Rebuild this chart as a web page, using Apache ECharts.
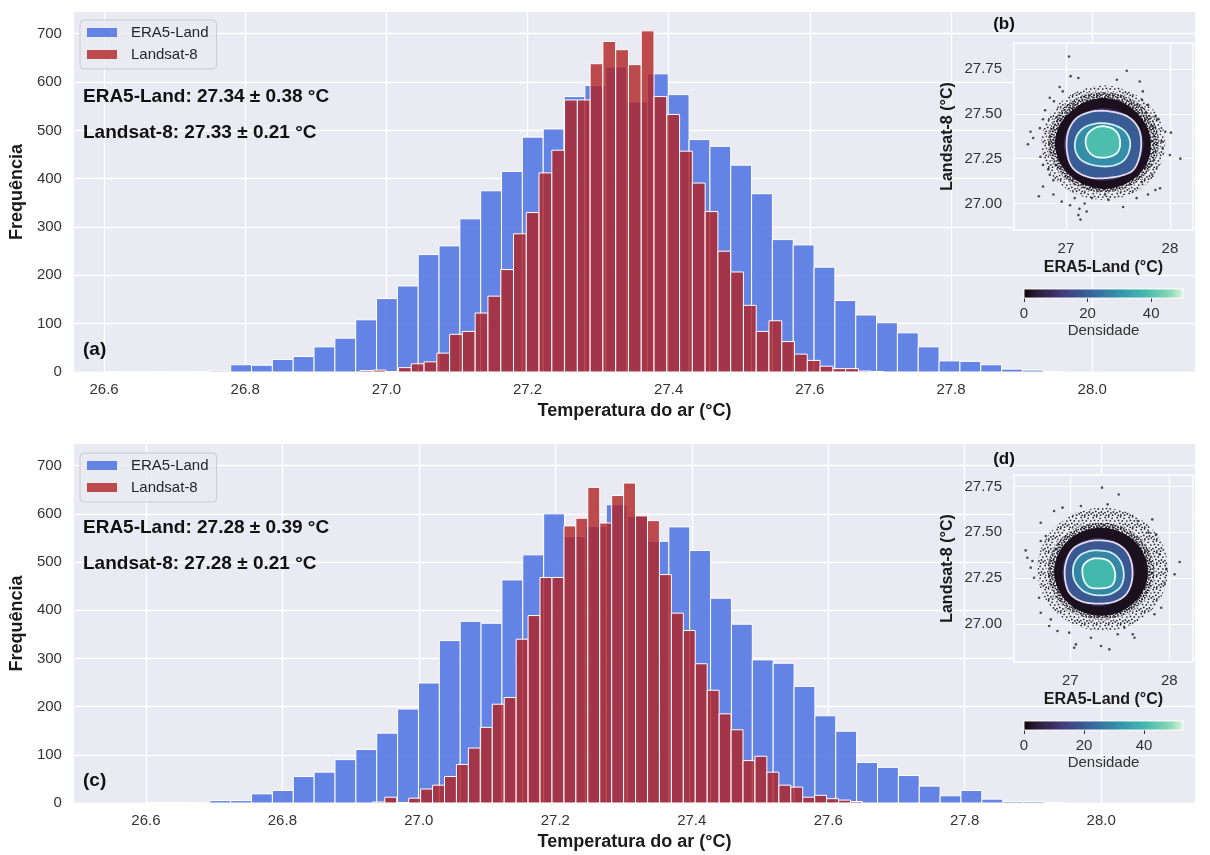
<!DOCTYPE html>
<html>
<head>
<meta charset="utf-8">
<script src="https://cdn.jsdelivr.net/npm/echarts@6/dist/echarts.min.js"></script>
<style>html,body{margin:0;background:#fff}#main{width:1210px;height:855px}</style>
</head>
<body>
<div id="main"></div>
<script>
var FONT = '"Liberation Sans", Arial, sans-serif';

// (a) histogramas - bordas das classes e contagens
var aEraStart = 26.6023, aEraWidth = 0.02952;
var aEra = [1,0,1,0,1,2,15,14,26,32,52,70,108,152,178,243,261,317,375,415,486,503,570,593,631,559,617,574,481,467,428,369,274,263,217,148,118,102,81,52,23,22,15,6,4,1];
var aLandStart = 26.9629, aLandWidth = 0.0181;
var aLand = [3,4,1,9,17,21,39,78,84,122,157,212,286,330,412,459,563,563,638,684,667,636,706,570,533,457,391,332,250,207,138,84,106,63,37,24,12,7,7,2,1];

// (c) histogramas
var cEraStart = 26.6019, cEraWidth = 0.03058;
var cEra = [1,1,0,5,5,19,26,55,64,90,111,145,195,249,337,377,373,463,515,600,553,574,619,595,543,573,524,425,371,297,290,242,181,149,84,74,57,35,15,26,8,3,3,1];
var cLandStart = 26.9326, cLandWidth = 0.0175;
var cLand = [2,12,1,10,29,37,55,80,114,157,205,219,340,389,468,468,575,591,655,581,638,664,596,586,474,394,358,289,234,185,152,88,97,64,37,33,12,16,9,6,3];

var xTicks = [26.6, 26.8, 27.0, 27.2, 27.4, 27.6, 27.8, 28.0];
var yTicks = [0, 100, 200, 300, 400, 500, 600, 700];
var insetXTicks = [27, 28];
var insetYTicks = [27.0, 27.25, 27.5, 27.75];
var cbarTicks = [0, 20, 40];

// (b) densidade: regioes e contornos (ERA5-Land x Landsat-8)
var bSpeckle = [[27.955,27.337],[27.875,27.495],[27.659,27.610],[27.360,27.659],[27.061,27.610],[26.845,27.495],[26.765,27.331],[26.845,27.175],[27.061,27.063],[27.360,27.020],[27.659,27.063],[27.875,27.175]];
var bOuter = [[27.901,27.342],[27.827,27.484],[27.630,27.588],[27.360,27.625],[27.090,27.588],[26.894,27.484],[26.820,27.342],[26.894,27.201],[27.090,27.096],[27.360,27.059],[27.630,27.096],[27.827,27.201]];
var bDark = [[27.817,27.331],[27.756,27.452],[27.585,27.551],[27.360,27.588],[27.135,27.551],[26.958,27.454],[26.894,27.331],[26.964,27.206],[27.135,27.117],[27.360,27.081],[27.585,27.113],[27.762,27.206]];
var bNavy = [[27.746,27.329],[27.695,27.432],[27.553,27.504],[27.363,27.532],[27.173,27.504],[27.032,27.432],[26.980,27.329],[27.032,27.227],[27.173,27.154],[27.363,27.126],[27.553,27.154],[27.695,27.227]];
var bLavender = [[27.36,27.517],[27.505,27.504],[27.617,27.476],[27.697,27.420],[27.724,27.346],[27.708,27.262],[27.650,27.188],[27.537,27.156],[27.376,27.141],[27.231,27.145],[27.103,27.178],[27.032,27.234],[27.006,27.327],[27.029,27.411],[27.103,27.476],[27.231,27.510]];
var bCyan = [[27.36,27.448],[27.473,27.435],[27.569,27.402],[27.617,27.346],[27.601,27.281],[27.537,27.231],[27.408,27.207],[27.247,27.216],[27.135,27.249],[27.087,27.309],[27.103,27.374],[27.167,27.420],[27.263,27.443]];
var bInner = [[27.328,27.430],[27.440,27.420],[27.505,27.383],[27.521,27.327],[27.489,27.281],[27.392,27.257],[27.280,27.262],[27.209,27.299],[27.190,27.355],[27.231,27.402]];
var bDensity = [2, 8, 19, 29, 39];
var bOutliers = [[27.03,27.82],[27.585,27.74],[27.045,27.71],[27.12,27.70],[27.71,27.68],[27.49,27.69],[26.94,27.65],[26.97,27.625],[27.74,27.625],[26.845,27.59],[26.885,27.57],[27.73,27.58],[27.79,27.55],[27.86,27.485],[26.80,27.52],[26.78,27.47],[26.75,27.42],[26.66,27.40],[26.685,27.365],[26.635,27.33],[27.83,27.43],[27.89,27.47],[27.955,27.40],[28.01,27.395],[27.92,27.345],[28.00,27.27],[28.10,27.25],[27.93,27.31],[26.755,27.26],[26.78,27.215],[26.83,27.19],[26.845,27.16],[26.88,27.13],[26.74,27.04],[26.78,27.095],[26.88,27.05],[26.96,27.01],[27.04,26.99],[27.085,27.03],[27.18,27.00],[27.25,27.03],[27.13,26.97],[27.12,26.935],[27.14,26.91],[27.20,26.955],[27.41,27.02],[27.55,26.98],[27.375,27.05],[27.68,27.03],[27.79,27.05],[27.86,27.075],[27.905,27.085],[27.73,27.12],[27.83,27.16]];

// (d) densidade
var dSpeckle = [[27.987,27.298],[27.899,27.467],[27.659,27.588],[27.328,27.634],[27.000,27.588],[26.756,27.467],[26.668,27.298],[26.756,27.129],[27.000,27.008],[27.328,26.962],[27.659,27.008],[27.899,27.129]];
var dOuter = [[27.858,27.288],[27.784,27.423],[27.584,27.521],[27.311,27.557],[27.037,27.521],[26.837,27.423],[26.763,27.288],[26.837,27.154],[27.037,27.056],[27.311,27.020],[27.584,27.056],[27.784,27.154]];
var dDark = [[27.784,27.285],[27.720,27.405],[27.547,27.492],[27.311,27.525],[27.074,27.492],[26.902,27.405],[26.837,27.285],[26.902,27.165],[27.074,27.078],[27.311,27.045],[27.547,27.078],[27.720,27.165]];
var dNavy = [[27.649,27.283],[27.601,27.376],[27.466,27.445],[27.284,27.470],[27.101,27.445],[26.966,27.376],[26.919,27.283],[26.966,27.189],[27.101,27.122],[27.284,27.096],[27.466,27.122],[27.601,27.189]];
var dLavender = [[27.277,27.456],[27.446,27.443],[27.564,27.398],[27.622,27.325],[27.622,27.234],[27.564,27.162],[27.446,27.122],[27.277,27.111],[27.108,27.125],[26.990,27.171],[26.946,27.252],[26.956,27.334],[27.023,27.407],[27.142,27.443]];
var dCyan = [[27.270,27.401],[27.412,27.389],[27.507,27.343],[27.541,27.270],[27.507,27.202],[27.395,27.162],[27.250,27.158],[27.125,27.183],[27.040,27.243],[27.033,27.316],[27.091,27.370],[27.175,27.394]];
var dInner = [[27.260,27.358],[27.378,27.347],[27.439,27.307],[27.453,27.252],[27.412,27.207],[27.294,27.194],[27.192,27.202],[27.135,27.244],[27.125,27.307],[27.175,27.343]];
var dDensity = [2, 8, 19, 29, 40];
var dOutliers = [[27.321,27.743],[27.490,27.706],[26.702,27.552],[26.837,27.616],[26.922,27.634],[27.828,27.570],[27.791,27.498],[26.550,27.401],[26.567,27.361],[26.618,27.343],[26.702,27.452],[26.753,27.479],[28.105,27.338],[28.054,27.271],[27.970,27.298],[27.953,27.225],[26.635,27.252],[26.601,27.307],[26.702,27.061],[26.787,26.989],[26.871,26.962],[26.990,26.953],[27.040,26.871],[27.057,26.889],[27.209,26.925],[27.311,26.880],[27.395,26.862],[27.480,26.944],[27.632,26.944],[27.649,26.925],[27.547,26.980],[27.851,27.053],[27.919,27.089],[26.804,27.025],[26.685,27.143],[27.902,27.380],[27.868,27.489],[27.682,27.561],[27.378,27.652],[27.108,27.643]];

// mapa de cores "mako"
var mako = ['#0b0405','#2e1e3b','#382a5a','#413d7b','#3c518c','#37659e','#367aa2','#348fa7','#3aa3aa','#40b7ad','#65c8b0','#8bdab2','#def5e5'];
var makoStops = mako.map(function (c, i) { return {offset: i / (mako.length - 1), color: c}; });

function bins(start, width, counts) {
  return counts.map(function (c, i) { return [start + i * width, start + (i + 1) * width, c]; });
}

function renderBar(params, api) {
  var p0 = api.coord([api.value(0), api.value(2)]);
  var p1 = api.coord([api.value(1), 0]);
  return {
    type: 'rect',
    shape: {x: p0[0], y: p0[1], width: p1[0] - p0[0], height: p1[1] - p0[1]},
    style: {fill: api.visual('color'), stroke: '#fff', lineWidth: 1}
  };
}

function histSeries(name, data, idx, color) {
  return {type: 'custom', name: name, xAxisIndex: idx, yAxisIndex: idx, data: data,
    renderItem: renderBar, encode: {x: [0, 1], y: 2}, itemStyle: {color: color}, silent: true};
}

// texturas de pontos para a nuvem do scatter
function dotPattern(size, dots) {
  var c = document.createElement('canvas');
  c.width = size; c.height = size;
  var g = c.getContext('2d');
  g.fillStyle = 'rgba(20,18,24,0.9)';
  dots.forEach(function (d) {
    g.beginPath(); g.arc(d[0], d[1], 0.9, 0, Math.PI * 2); g.fill();
  });
  return c;
}
var sparseFill = {image: dotPattern(12, [[1.2,1.5],[4.6,0.8],[8.1,2.3],[10.8,5.1],[2.5,4.4],[6.3,4.9],[9.4,8.0],[0.9,8.6],[3.8,7.4],
  [6.9,8.9],[4.9,11.0],[8.6,11.2],[11.3,9.9],[2.2,11.3]]), repeat: 'repeat'};
var denseFill = {image: dotPattern(8, [[1,1],[3.6,0.7],[6.2,1.6],[2.2,3.3],[4.9,3.6],[7.3,4.4],[0.8,5.6],[3.4,6.1],[5.9,6.9],[1.9,7.6]]), repeat: 'repeat'};

// curva fechada suave (Catmull-Rom) pelos pontos do contorno, em pixels
function closedCurve(pts) {
  var out = [], L = pts.length, n = 10;
  for (var i = 0; i < L; i++) {
    var p0 = pts[(i - 1 + L) % L], p1 = pts[i], p2 = pts[(i + 1) % L], p3 = pts[(i + 2) % L];
    for (var k = 0; k < n; k++) {
      var t = k / n, t2 = t * t, t3 = t2 * t;
      out.push([0, 1].map(function (j) {
        return 0.5 * (2 * p1[j] + (p2[j] - p0[j]) * t + (2 * p0[j] - 5 * p1[j] + 4 * p2[j] - p3[j]) * t2 + (3 * p1[j] - p0[j] - 3 * p2[j] + p3[j]) * t3);
      }));
    }
  }
  return out;
}

function ringSeries(idx, rings, values, fills, z) {
  return {
    type: 'custom', xAxisIndex: idx, yAxisIndex: idx, silent: true, z: z,
    data: rings.map(function (r, i) { return [i, values ? values[i] : 0]; }),
    renderItem: function (params, api) {
      var pts = closedCurve(rings[params.dataIndex].map(function (p) { return api.coord(p); }));
      return {type: 'polygon', shape: {points: pts},
        style: {fill: fills ? fills[params.dataIndex] : api.visual('color')}};
    }
  };
}

var contourColors = ['rgba(255,255,255,0.55)', '#e6dcef', '#cdeff0', '#effcf6'];
function contourSeries(idx, rings) {
  return {
    type: 'custom', xAxisIndex: idx, yAxisIndex: idx, silent: true, z: 5,
    data: rings.map(function (r, i) { return [i, 0]; }),
    renderItem: function (params, api) {
      var pts = closedCurve(rings[params.dataIndex].map(function (p) { return api.coord(p); }));
      return {type: 'polygon', shape: {points: pts},
        style: {fill: 'none', stroke: contourColors[params.dataIndex], lineWidth: 1.8}};
    }
  };
}

function renderCbar(params, api) {
  var p0 = api.coord([api.value(0), 1]);
  var p1 = api.coord([api.value(1), 0]);
  return {type: 'rect', shape: {x: p0[0], y: p0[1], width: p1[0] - p0[0], height: p1[1] - p0[1]},
    style: {fill: new echarts.graphic.LinearGradient(0, 0, 1, 0, makoStops), stroke: 'rgba(255,255,255,0.9)', lineWidth: 1}};
}

var nameStyle = {fontSize: 18, fontWeight: 'bold', color: '#1a1a1a', fontFamily: FONT};
var tickStyle = {fontSize: 15, color: '#333', fontFamily: FONT};
var whiteLine = {lineStyle: {color: '#fff', width: 1.3}};

function mainX(idx, min, max) {
  return {type: 'value', gridIndex: idx, min: min, max: max,
    name: 'Temperatura do ar (°C)', nameLocation: 'middle', nameGap: 30, nameTextStyle: nameStyle,
    axisLine: {show: false}, axisTick: {show: false, customValues: xTicks},
    axisLabel: Object.assign({customValues: xTicks, margin: 10, formatter: function (v) { return v.toFixed(1); }}, tickStyle),
    splitLine: whiteLine};
}
function mainY(idx) {
  return {type: 'value', gridIndex: idx, min: 0, max: 745,
    name: 'Frequência', nameLocation: 'middle', nameGap: 43, nameTextStyle: nameStyle,
    axisLine: {show: false}, axisTick: {show: false, customValues: yTicks},
    axisLabel: Object.assign({customValues: yTicks, margin: 12}, tickStyle),
    splitLine: whiteLine};
}
function insetX(idx, min, max) {
  return {type: 'value', gridIndex: idx, min: min, max: max, z: 2,
    name: 'ERA5-Land (°C)', nameLocation: 'middle', nameGap: 30,
    nameTextStyle: {fontSize: 16, fontWeight: 'bold', color: '#1a1a1a', fontFamily: FONT},
    axisLine: {show: false}, axisTick: {show: false, customValues: insetXTicks},
    axisLabel: Object.assign({customValues: insetXTicks, margin: 11}, tickStyle),
    splitLine: {lineStyle: {color: '#fff', width: 1.2}}};
}
function insetY(idx, min, max) {
  return {type: 'value', gridIndex: idx, min: min, max: max, z: 2,
    name: 'Landsat-8 (°C)', nameLocation: 'middle', nameGap: 58,
    nameTextStyle: {fontSize: 16, fontWeight: 'bold', color: '#1a1a1a', fontFamily: FONT},
    axisLine: {show: false}, axisTick: {show: false, customValues: insetYTicks},
    axisLabel: Object.assign({customValues: insetYTicks, margin: 12, formatter: function (v) { return v.toFixed(2); }}, tickStyle),
    splitLine: {lineStyle: {color: '#fff', width: 1.2}}};
}
function cbarX(idx, max) {
  return {type: 'value', gridIndex: idx, min: 0, max: max,
    name: 'Densidade', nameLocation: 'middle', nameGap: 25, nameTextStyle: tickStyle,
    axisLine: {show: false}, splitLine: {show: false},
    axisTick: {show: true, customValues: cbarTicks, length: 4, lineStyle: {color: '#333', width: 1}},
    axisLabel: Object.assign({customValues: cbarTicks, margin: 8}, tickStyle)};
}
function hiddenY(idx) {
  return {type: 'value', gridIndex: idx, min: 0, max: 1, show: false};
}

function legendAt(top) {
  return {left: 80, top: top, orient: 'vertical', icon: 'rect', itemWidth: 30, itemHeight: 9, itemGap: 7,
    padding: [5, 8, 7, 7], backgroundColor: 'rgba(234,234,242,0.8)', borderColor: '#cccccc', borderWidth: 1, borderRadius: 4,
    textStyle: {fontSize: 15, color: '#262626', fontFamily: FONT, padding: [0, 0, 0, 9]},
    data: ['ERA5-Land', 'Landsat-8'], selectedMode: false};
}

function label(t, x, y, size, align) {
  return {type: 'text', x: x, y: y, z: 10, silent: true,
    style: {text: t, font: 'bold ' + size + 'px ' + FONT, fill: '#111', align: align || 'left', verticalAlign: 'middle'}};
}

var BLUE = 'rgba(65,105,225,0.8)', RED = 'rgba(178,34,34,0.8)';
var insetGrid = {show: true, backgroundColor: '#eaeaf2', borderColor: '#fff', borderWidth: 1.3, z: 1};

var chart = echarts.init(document.getElementById('main'), null, {renderer: 'canvas'});
chart.setOption({
  animation: false,
  textStyle: {fontFamily: FONT},
  grid: [
    {left: 72, top: 12, width: 1123, height: 360, show: true, backgroundColor: '#eaeaf2', borderWidth: 0},
    {left: 72, top: 444, width: 1123, height: 359, show: true, backgroundColor: '#eaeaf2', borderWidth: 0},
    Object.assign({left: 1014, top: 43, width: 179, height: 187}, insetGrid),
    Object.assign({left: 1014, top: 475, width: 179, height: 187}, insetGrid),
    {left: 1024, top: 289, width: 159, height: 9},
    {left: 1024, top: 721, width: 159, height: 9}
  ],
  xAxis: [mainX(0, 26.5573, 28.1457), mainX(1, 26.4945, 28.1375), insetX(2, 26.501, 28.222), insetX(3, 26.432, 28.240), cbarX(4, 50), cbarX(5, 53)],
  yAxis: [mainY(0), mainY(1), insetY(2, 26.852, 27.895), insetY(3, 26.793, 27.812), hiddenY(4), hiddenY(5)],
  legend: [legendAt(20), legendAt(453)],
  visualMap: [
    {show: false, type: 'continuous', seriesIndex: 5, dimension: 1, min: 0, max: 50, inRange: {color: mako}},
    {show: false, type: 'continuous', seriesIndex: 9, dimension: 1, min: 0, max: 53, inRange: {color: mako}}
  ],
  series: [
    histSeries('ERA5-Land', bins(aEraStart, aEraWidth, aEra), 0, BLUE),
    histSeries('Landsat-8', bins(aLandStart, aLandWidth, aLand), 0, RED),
    histSeries('ERA5-Land', bins(cEraStart, cEraWidth, cEra), 1, BLUE),
    histSeries('Landsat-8', bins(cLandStart, cLandWidth, cLand), 1, RED),
    ringSeries(2, [bSpeckle, bOuter], null, [sparseFill, denseFill], 3),
    ringSeries(2, [bDark, bNavy, bLavender, bCyan, bInner], bDensity, null, 4),
    contourSeries(2, [bOuter, bLavender, bCyan, bInner]),
    {type: 'scatter', xAxisIndex: 2, yAxisIndex: 2, data: bOutliers, symbolSize: 2.6, itemStyle: {color: '#262626'}, silent: true, z: 5},
    ringSeries(3, [dSpeckle, dOuter], null, [sparseFill, denseFill], 3),
    ringSeries(3, [dDark, dNavy, dLavender, dCyan, dInner], dDensity, null, 4),
    contourSeries(3, [dOuter, dLavender, dCyan, dInner]),
    {type: 'scatter', xAxisIndex: 3, yAxisIndex: 3, data: dOutliers, symbolSize: 2.6, itemStyle: {color: '#262626'}, silent: true, z: 5},
    {type: 'custom', xAxisIndex: 4, yAxisIndex: 4, data: [[0, 50]], renderItem: renderCbar, silent: true},
    {type: 'custom', xAxisIndex: 5, yAxisIndex: 5, data: [[0, 53]], renderItem: renderCbar, silent: true}
  ],
  graphic: [
    label('ERA5-Land: 27.34 ± 0.38 °C', 83, 97, 19),
    label('Landsat-8: 27.33 ± 0.21 °C', 83, 133, 19),
    label('(a)', 83, 350, 19),
    label('(b)', 1004, 24, 17, 'center'),
    label('ERA5-Land: 27.28 ± 0.39 °C', 83, 528, 19),
    label('Landsat-8: 27.28 ± 0.21 °C', 83, 564, 19),
    label('(c)', 83, 781, 19),
    label('(d)', 1004, 459, 17, 'center')
  ]
});
</script>
</body>
</html>
